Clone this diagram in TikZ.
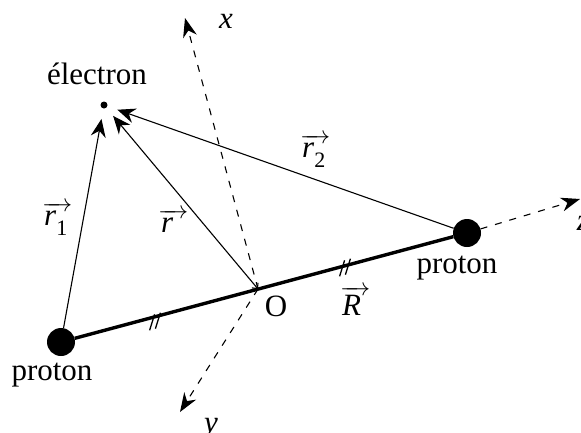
\documentclass[tikz,border=0pt]{standalone}
\usepackage{fontspec}
\setmainfont{Liberation Serif}
\usetikzlibrary{arrows.meta}
\newcommand\vecl[1]{$\overrightarrow{\hbox to 30pt{#1\hfil}}$}
\newcommand\subn[1]{\raisebox{-10pt}{\upshape\fontsize{22}{24}\selectfont #1}}
\begin{document}
\begin{tikzpicture}[x=1pt,y=-1pt,
  lab/.style={inner sep=0pt, anchor=base, font=\fontsize{31}{36}\selectfont},
  vlab/.style={lab, anchor=base west},
  axis/.style={line width=1.1pt, dash pattern=on 7pt off 8pt, -{Stealth[length=19pt,width=14pt,inset=6pt]}},
  proton/.style={circle, fill=black, minimum size=28pt, inner sep=0pt},
  vec/.style={line width=1.1pt, -{Stealth[length=18pt,width=15pt,inset=6pt]}},
  tickmark/.style={line width=1.3pt}]
\useasboundingbox (0,0) rectangle (581,432);
% points
\node[proton] (pL) at (61,342) {};
\node[proton] (pR) at (467,233) {};
\node[circle, fill=black, minimum size=7pt, inner sep=0pt] (edot) at (104,105) {};
\node[circle, minimum size=28pt, inner sep=0pt] (e) at (104,105) {};
\coordinate (O) at (258,289);
\coordinate (xTip) at (185,18);
\coordinate (yTip) at (180,412);
\coordinate (zTip) at (580,199);
\coordinate (tL) at (155,322);
\coordinate (tR) at (345,268);
% axes
\draw[axis] (O) -- (xTip);
\draw[axis] (O) -- (yTip);
\draw[axis] (pR) -- (zTip);
% proton line
\draw[line width=3.4pt] (pL) -- (pR);
\foreach \t in {tL,tR} {
  \draw[tickmark] ([shift={(-5.4,8.3)}]\t) -- ++(5,-16);
  \draw[tickmark] ([shift={(0.4,6.7)}]\t) -- ++(5,-16);
}
% vectors
\draw[vec] (pL) -- (e);
\draw[vec] (pR) -- (e);
\draw[line width=1.1pt, {Stealth[length=18pt,width=15pt,inset=6pt]}-{Straight Barb[length=4pt,width=8pt]}] (e) -- (O);
% labels
\node[lab] (elab) at (97,84) {électron};
\node[lab] (pRlab) at (457,273) {proton};
\node[lab] (pLlab) at (52,380) {proton};
\node[lab] (Olab) at (276,316) {O};
\node[lab] (xlab) at (226,28) {\itshape x};
\node[lab] (ylab) at (211,432) {\itshape y};
\node[lab] (zlab) at (583,230) {\itshape z};
\node[vlab] (r1lab) at (42,225) {\vecl{\hspace{2pt}\itshape r\/\subn{1}}};
\node[vlab] (rlab) at (158,232) {\vecl{\hspace{3pt}\itshape r}};
\node[vlab] (r2lab) at (300,157) {\vecl{\hspace{2pt}\itshape r\/\subn{2}}};
\node[vlab] (Rlab) at (340,315) {\vecl{\hspace{2pt}\itshape R}};
\end{tikzpicture}
\end{document}
